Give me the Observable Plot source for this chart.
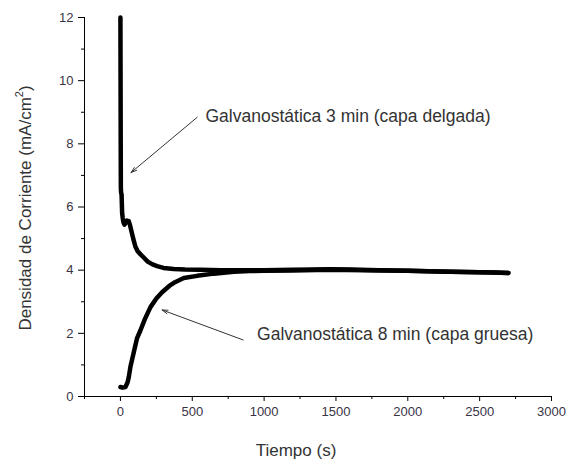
<!DOCTYPE html>
<html>
<head>
<meta charset="utf-8">
<script src="https://cdn.jsdelivr.net/npm/d3@7"></script>
<script src="https://cdn.jsdelivr.net/npm/@observablehq/plot@0.6"></script>
<style>
  html, body { margin: 0; padding: 0; background: #fff; }
  #chart svg { display: block; }
</style>
</head>
<body>
<div id="chart"></div>
<script>
// Curve 1: Galvanostática 3 min (capa delgada)
const thinT = [0, 1, 2, 3, 5, 8, 12, 16, 22, 28, 36, 45, 58, 68, 81, 92, 104, 120, 140, 162, 190, 220, 255, 300, 371, 450, 557, 700, 850, 1000, 1200, 1350, 1450, 1600, 1800, 2000, 2200, 2400, 2600, 2700];
const thinJ = [12, 10, 8, 6.6, 6.45, 6.4, 5.8, 5.65, 5.5, 5.44, 5.5, 5.57, 5.55, 5.4, 5.15, 4.95, 4.75, 4.6, 4.5, 4.4, 4.27, 4.19, 4.13, 4.07, 4.04, 4.02, 4.01, 4.0, 4.0, 4.0, 4.01, 4.02, 4.03, 4.02, 4.0, 3.98, 3.96, 3.94, 3.93, 3.91];

// Curve 2: Galvanostática 8 min (capa gruesa)
const thickT = [0, 15, 35, 50, 58, 70, 93, 116, 139, 170, 209, 250, 290, 340, 380, 441, 534, 650, 790, 900, 1000, 1200, 1450, 1700, 2000, 2300, 2600, 2700];
const thickJ = [0.3, 0.28, 0.3, 0.45, 0.61, 0.95, 1.4, 1.85, 2.09, 2.45, 2.83, 3.1, 3.3, 3.5, 3.62, 3.75, 3.82, 3.89, 3.95, 3.97, 3.98, 3.99, 4.01, 4.0, 3.98, 3.95, 3.93, 3.91];

// Ticks
const xMajor = [0, 500, 1000, 1500, 2000, 2500, 3000];
const xMinor = [-250, 250, 750, 1250, 1750, 2250, 2750];
const yMajor = [0, 2, 4, 6, 8, 10, 12];
const yMinor = [1, 3, 5, 7, 9, 11];
const xDomain = [-250, 3000];
const yDomain = [0, 12];

// Annotations
const labels = ["Galvanostática 3 min (capa delgada)", "Galvanostática 8 min (capa gruesa)"];
const labelT = [592, 951];
const labelJ = [8.86, 1.96];
const arrowT1 = [534, 854];
const arrowJ1 = [8.84, 1.79];
const arrowT2 = [74, 290];
const arrowJ2 = [7.09, 2.74];

const thin = thinT.map((t, i) => ({t, j: thinJ[i]}));
const thick = thickT.map((t, i) => ({t, j: thickJ[i]}));
const notes = labels.map((text, i) => ({text, t: labelT[i], j: labelJ[i], t1: arrowT1[i], j1: arrowJ1[i], t2: arrowT2[i], j2: arrowJ2[i]}));

const font = "'Liberation Sans', Arial, sans-serif";

const svg = Plot.plot({
  width: 572,
  height: 460,
  marginLeft: 84,
  marginRight: 21,
  marginTop: 17,
  marginBottom: 64,
  style: {fontFamily: font, fontSize: "13px", color: "#000", background: "#fff"},
  x: {domain: xDomain, label: null},
  y: {domain: yDomain, label: null},
  marks: [
    Plot.axisX({ticks: xMajor, tickSize: 5, tickPadding: 5, label: null, tickFormat: d => String(d), fill: "#3a3346"}),
    Plot.axisX({ticks: xMinor, tickSize: 3, tickFormat: null, label: null, text: null}),
    Plot.axisY({ticks: yMajor, tickSize: 6, tickPadding: 5, label: null, tickFormat: d => String(d), fill: "#3a3346"}),
    Plot.axisY({ticks: yMinor, tickSize: 3, tickFormat: null, label: null, text: null}),
    Plot.ruleY([yDomain[0]], {stroke: "#000", strokeWidth: 1}),
    Plot.ruleX([xDomain[0]], {stroke: "#000", strokeWidth: 1}),
    Plot.line(thick, {x: "t", y: "j", stroke: "#000", strokeWidth: 4.5, strokeLinejoin: "round", strokeLinecap: "round"}),
    Plot.line(thin, {x: "t", y: "j", stroke: "#000", strokeWidth: 4.5, strokeLinejoin: "round", strokeLinecap: "round"}),
    Plot.arrow(notes, {x1: "t1", y1: "j1", x2: "t2", y2: "j2", stroke: "#333", strokeWidth: 1, headLength: 9, headAngle: 35}),
    Plot.text(notes, {x: "t", y: "j", text: "text", textAnchor: "start", fontSize: 17.5, fill: "#333", fontFamily: font})
  ]
});

const s = d3.select(svg);
s.append("text")
  .attr("x", 296).attr("y", 456)
  .attr("text-anchor", "middle")
  .attr("font-family", font).attr("font-size", 17).attr("fill", "#333")
  .text("Tiempo (s)");

const yl = s.append("text")
  .attr("transform", "translate(30.5,208) rotate(-90)")
  .attr("text-anchor", "middle")
  .attr("font-family", font).attr("font-size", 17).attr("fill", "#333");
yl.append("tspan").text("Densidad de Corriente (mA/cm");
yl.append("tspan").attr("dy", -8).attr("font-size", 11).text("2");
yl.append("tspan").attr("dy", 8).text(")");

document.getElementById("chart").appendChild(svg);
</script>
</body>
</html>
